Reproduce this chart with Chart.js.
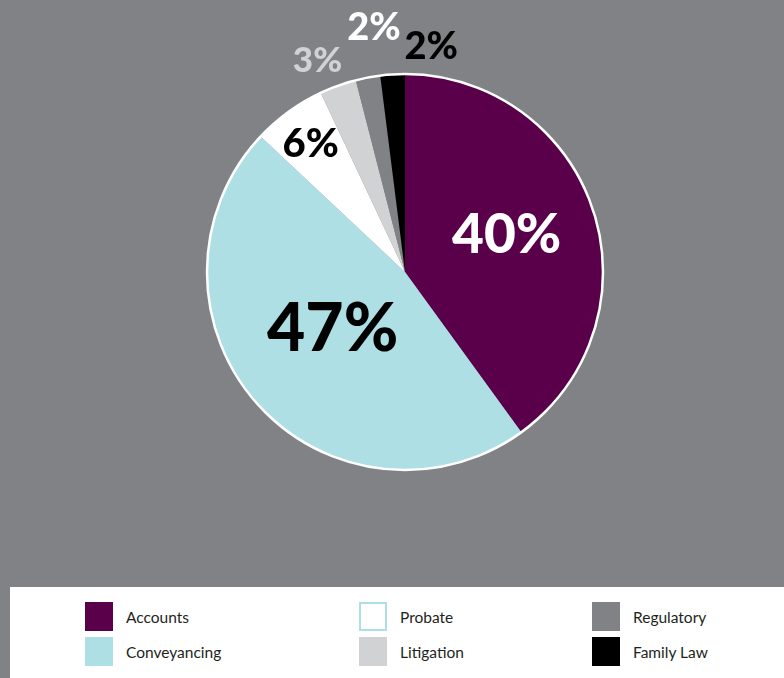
<!DOCTYPE html>
<html>
<head>
<meta charset="utf-8">
<script src="https://cdn.jsdelivr.net/npm/chart.js@4.4.0/dist/chart.umd.min.js"></script>
<style>
    html, body {
        margin: 0;
        padding: 0;
        background: #818286;
        width: 784px;
        height: 678px;
        overflow: hidden;
        font-family: 'Lato', 'Noto Sans', sans-serif;
    }
    #wrap {
        position: absolute;
        left: 0;
        top: 0;
        width: 784px;
        height: 587px;
    }
    #legend {
        position: absolute;
        left: 10px;
        top: 587px;
        width: 774px;
        height: 91px;
        background: #ffffff;
    }
    .item {
        position: absolute;
        height: 29px;
        display: flex;
        align-items: center;
    }
    .swatch {
        width: 28px;
        height: 29px;
        box-sizing: border-box;
        margin-right: 13px;
    }
    .item span {
        font-size: 15.5px;
        color: #231f20;
    }
</style>
</head>
<body>
<div id="wrap"><canvas id="pieChart" width="784" height="587"></canvas></div>
<div id="legend"></div>

<script>
// Share of work by area (%)
var categories = ['Accounts', 'Conveyancing', 'Probate', 'Litigation', 'Regulatory', 'Family Law'];
var shares = [40, 47, 6, 3, 2, 2];
var sliceColors = ['#5a004b', '#aedfe4', '#ffffff', '#d1d2d4', '#818286', '#000000'];

// Label styling per slice
var labelColors = ['#ffffff', '#000000', '#000000', '#d1d2d4', '#ffffff', '#000000'];
var labelSizes = [55, 66, 40, 35, 38, 38];
var labelRadius = [0.55, 0.46, 0.81, 1.16, 1.25, 1.15];
var labelShift = [-3, 4, 0, -2.6, 3.6, 10.2];

document.addEventListener('DOMContentLoaded', function() {
    // white rim round the pie plus the percentage labels
    var pieLabels = {
        id: 'pieLabels',
        afterDatasetsDraw: function(chart) {
            var ctx = chart.ctx;
            var arcs = chart.getDatasetMeta(0).data;
            var first = arcs[0].getProps(['x', 'y', 'outerRadius'], true);

            ctx.save();
            ctx.beginPath();
            ctx.arc(first.x, first.y, first.outerRadius, 0, Math.PI * 2);
            ctx.strokeStyle = '#ffffff';
            ctx.lineWidth = 2.5;
            ctx.stroke();

            arcs.forEach(function(arc, i) {
                var p = arc.getProps(['x', 'y', 'startAngle', 'endAngle', 'outerRadius'], true);
                var mid = (p.startAngle + p.endAngle) / 2 + labelShift[i] * Math.PI / 180;
                var r = p.outerRadius * labelRadius[i];
                var x = p.x + Math.cos(mid) * r;
                var y = p.y + Math.sin(mid) * r;
                var size = labelSizes[i];
                ctx.font = '900 ' + size + "px 'Lato', sans-serif";
                ctx.fillStyle = labelColors[i];
                ctx.textAlign = 'center';
                ctx.textBaseline = 'alphabetic';
                ctx.fillText(chart.data.datasets[0].data[i] + '%', x, y + size * 0.36);
            });
            ctx.restore();
        }
    };

    var ctx = document.getElementById('pieChart').getContext('2d');
    new Chart(ctx, {
        type: 'pie',
        data: {
            labels: categories,
            datasets: [{
                data: shares,
                backgroundColor: sliceColors,
                borderWidth: 0
            }]
        },
        options: {
            responsive: false,
            animation: false,
            layout: {
                padding: {
                    top: 74,
                    bottom: 117,
                    left: 207,
                    right: 181
                }
            },
            plugins: {
                legend: { display: false },
                tooltip: { enabled: false }
            }
        },
        plugins: [pieLabels]
    });

    // Legend: three columns, two rows
    var legend = document.getElementById('legend');
    var colLeft = [75, 349, 582];
    var rowTop = [15, 50];
    categories.forEach(function(name, i) {
        var item = document.createElement('div');
        item.className = 'item';
        item.style.left = colLeft[Math.floor(i / 2)] + 'px';
        item.style.top = rowTop[i % 2] + 'px';
        var sw = document.createElement('div');
        sw.className = 'swatch';
        sw.style.background = sliceColors[i];
        if (sliceColors[i] === '#ffffff') {
            sw.style.border = '2px solid #aedfe4';
        }
        var label = document.createElement('span');
        label.textContent = name;
        item.appendChild(sw);
        item.appendChild(label);
        legend.appendChild(item);
    });
});
</script>
</body>
</html>
